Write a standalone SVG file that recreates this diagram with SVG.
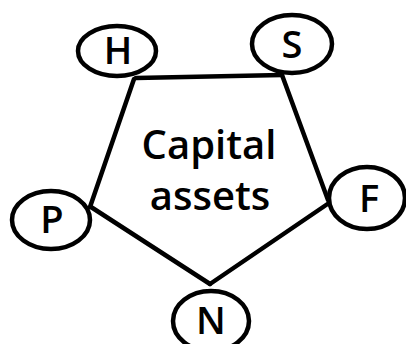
<svg xmlns="http://www.w3.org/2000/svg" width="406" height="344" viewBox="0 0 406 344">
<style>
.n ellipse{fill:#fff;stroke:#000;stroke-width:4.5}
.n text{font-family:"Open Sans","DejaVu Sans",sans-serif;font-size:38px;font-weight:600;text-anchor:middle;fill:#000}
.c line{stroke:#000;stroke-width:4.5;stroke-linecap:round}
.t{font-family:"Open Sans","DejaVu Sans",sans-serif;font-size:40px;font-weight:600;text-anchor:middle;fill:#000}
</style>
<rect width="406" height="344" fill="#fff"/>
<g class="c" id="connectors">
<line x1="136" y1="78" x2="282" y2="75"/>
<line x1="134" y1="79" x2="90" y2="207"/>
<line x1="282" y1="75" x2="328" y2="200"/>
<line x1="91" y1="207" x2="210" y2="284"/>
<line x1="210" y1="284" x2="329" y2="203"/>
</g>
<g id="label"><text class="t" x="209" y="159">Capital</text><text class="t" x="210" y="210">assets</text></g>
<g class="n" id="H"><ellipse cx="117" cy="51" rx="39" ry="25"/><text x="118" y="64">H</text></g>
<g class="n" id="S"><ellipse cx="292" cy="44" rx="40" ry="29"/><text x="292" y="58">S</text></g>
<g class="n" id="P"><ellipse cx="51" cy="220" rx="39" ry="29"/><text x="52" y="233">P</text></g>
<g class="n" id="F"><ellipse cx="367" cy="198" rx="38" ry="31"/><text x="369" y="212">F</text></g>
<g class="n" id="N"><ellipse cx="211" cy="321" rx="38" ry="30"/><text x="211" y="334">N</text></g>
</svg>
